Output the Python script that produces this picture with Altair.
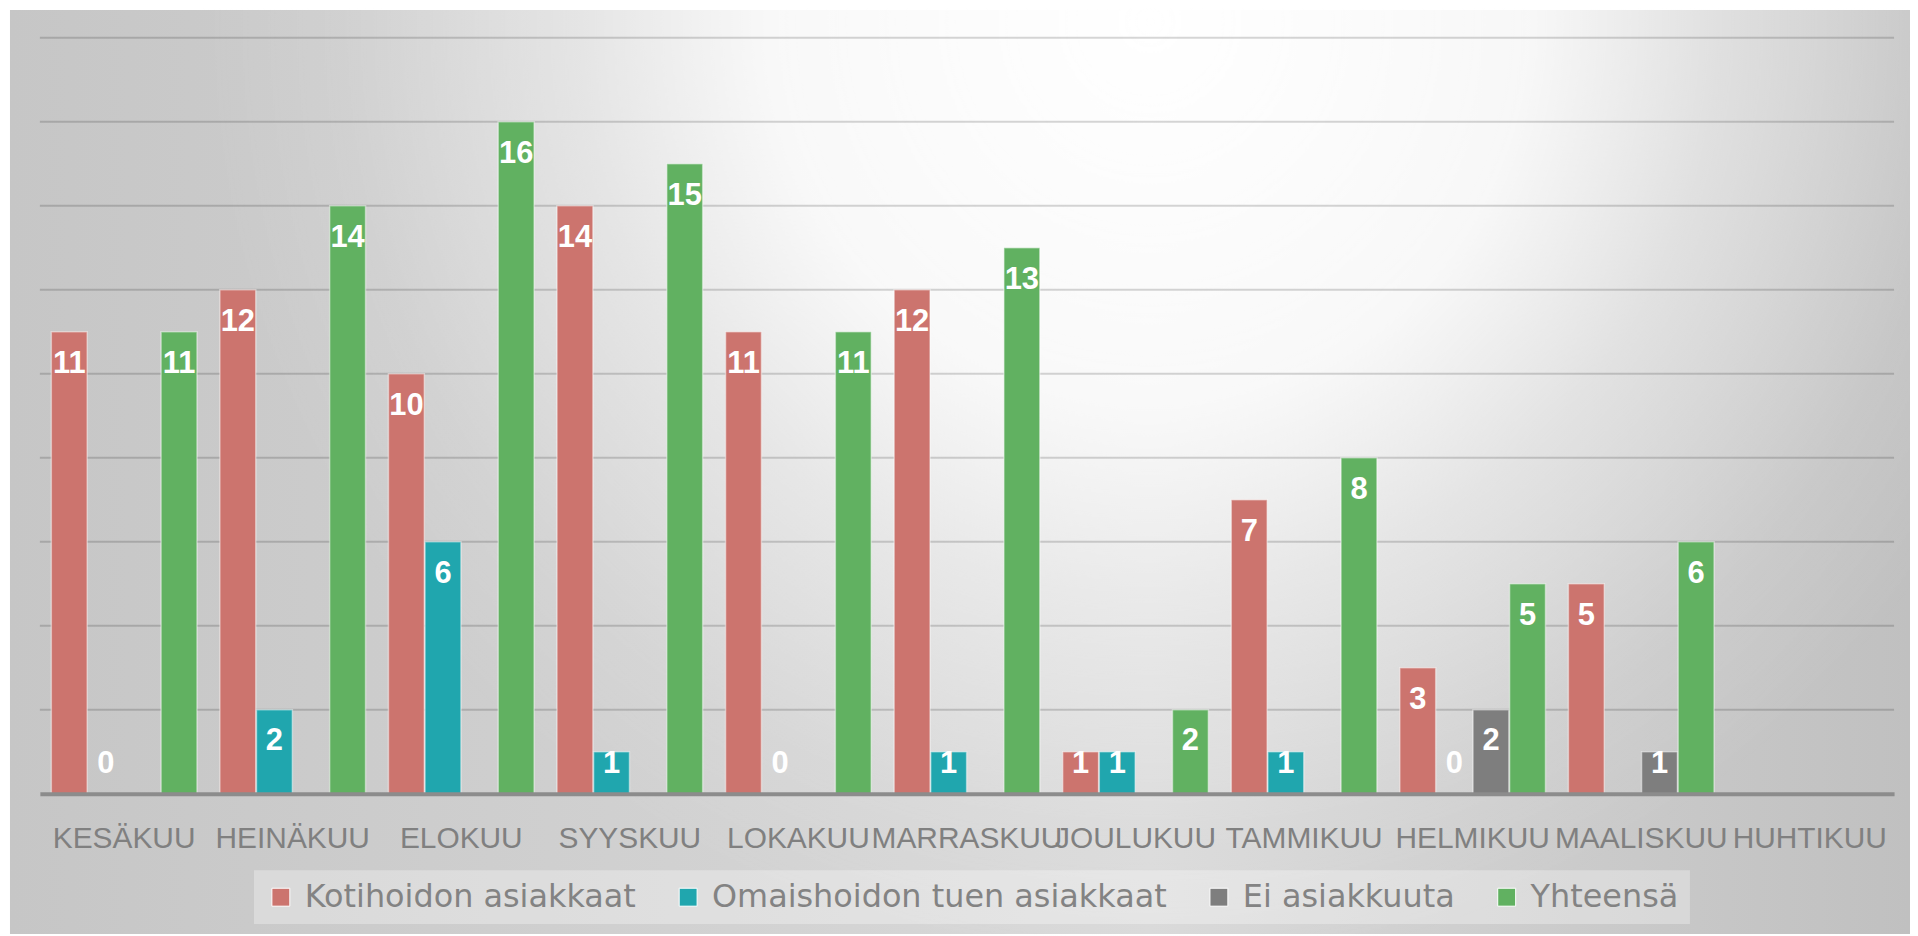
import altair as alt
import pandas as pd

months = ["KESÄKUU", "HEINÄKUU", "ELOKUU", "SYYSKUU", "LOKAKUU", "MARRASKUU",
          "JOULUKUU", "TAMMIKUU", "HELMIKUU", "MAALISKUU", "HUHTIKUU"]
series = ["Kotihoidon asiakkaat", "Omaishoidon tuen asiakkaat", "Ei asiakkuuta", "Yhteensä"]
colors = ["#CC746E", "#20A6AE", "#7E7E7E", "#61B161"]

kotihoito = [11, 12, 10, 14, 11, 12, 1, 7, 3, 5, None]
omaishoito = [0, 2, 6, 1, 0, 1, 1, 1, 0, None, None]
ei_asiakkuutta = [None, None, None, None, None, None, None, None, 2, 1, None]
yhteensa = [11, 14, 16, 15, 11, 13, 2, 8, 5, 6, None]

grid_values = [2, 4, 6, 8, 10, 12, 14, 16, 18]
y_max = 18

rows = []
for name, vals in zip(series, [kotihoito, omaishoito, ei_asiakkuutta, yhteensa]):
    for m, v in zip(months, vals):
        if v is not None:
            rows.append({"month": m, "series": name, "value": v})
df = pd.DataFrame(rows)

W, H = 1862, 759

x_enc = alt.X("month:N", scale=alt.Scale(domain=months, paddingInner=0.136, paddingOuter=0.068),
              sort=months,
              axis=alt.Axis(title=None, labelAngle=0, labelFont="Liberation Sans", labelFontSize=30,
                            labelColor="#808080", labelPadding=30, ticks=False, tickSize=0,
                            domainColor="#8c8c8c", domainWidth=4, grid=False, labelOverlap=False,
                            labelLimit=0, zindex=1))
y_scale = alt.Scale(domain=[0, y_max], nice=False, zero=True)
xoff = alt.XOffset("series:N", scale=alt.Scale(domain=series, paddingInner=0.02))

# decorative background
one = alt.Data(values=[{"k": 1}])
bg_base = alt.Chart(one).mark_rect(
    clip=False,
    color=alt.LinearGradient(gradient="linear", x1=0, y1=0, x2=1, y2=0,
                             stops=[alt.GradientStop(color="#c6c6c6", offset=0),
                                    alt.GradientStop(color="#d9d9d9", offset=0.6),
                                    alt.GradientStop(color="#c0c0c0", offset=1)])
).encode(x=alt.value(-30), x2=alt.value(W + 16), y=alt.value(-28), y2=alt.value(H + 141))

bg_glow = alt.Chart(one).mark_rect(
    clip=False,
    color=alt.RadialGradient(gradient="radial", x1=0.6, y1=0.5, r1=0, x2=0.6, y2=0.5, r2=0.5,
                             stops=[alt.GradientStop(color="rgba(255,255,255,1)", offset=0),
                                    alt.GradientStop(color="rgba(255,255,255,0.85)", offset=0.4),
                                    alt.GradientStop(color="rgba(255,255,255,0.45)", offset=0.6),
                                    alt.GradientStop(color="rgba(255,255,255,0.1)", offset=0.85),
                                    alt.GradientStop(color="rgba(255,255,255,0)", offset=1)])
).encode(x=alt.value(-30), x2=alt.value(W + 16), y=alt.value(-954 - 28 + 8 + 8), y2=alt.value(954 - 28 + 8))

grid = alt.Chart(pd.DataFrame({"g": grid_values})).mark_rule(
    color="black", strokeOpacity=0.16, strokeWidth=2
).encode(y=alt.Y("g:Q", scale=y_scale, axis=None))

bars = alt.Chart(df).mark_bar(stroke="white", strokeOpacity=0.45, strokeWidth=1.5).encode(
    x=x_enc,
    xOffset=xoff,
    y=alt.Y("value:Q", scale=y_scale, axis=None),
    color=alt.Color("series:N", scale=alt.Scale(domain=series, range=colors),
                    legend=alt.Legend(title=None, orient="none", direction="horizontal",
                                      legendX=215, legendY=836, symbolType="square",
                                      symbolSize=324, symbolStrokeColor="white",
                                      symbolStrokeWidth=1, labelFont="DejaVu Sans",
                                      labelFontSize=32, labelColor="#838383", labelOffset=8,
                                      columnPadding=36, padding=11,
                                      fillColor="rgba(255,255,255,0.3)", zindex=1,
                                      labelLimit=0)),
)

labels = alt.Chart(df).transform_calculate(
    ly="max(datum.value, 1.47)"
).mark_text(
    baseline="middle", dy=32, color="white", fontWeight="bold",
    font="Liberation Sans Narrow, Liberation Sans, sans-serif", fontSize=31
).encode(
    x=x_enc,
    xOffset=xoff,
    y=alt.Y("ly:Q", scale=y_scale, axis=None),
    text=alt.Text("value:Q"),
)

chart = alt.layer(bg_base, bg_glow, grid, bars, labels).properties(
    width=W, height=H,
    autosize=alt.AutoSizeParams(type="none"),
    padding={"left": 32, "top": 28, "right": 16, "bottom": 141},
).configure_view(stroke=None)

chart.save("out.html", embed_options={"renderer": "svg", "actions": False})
